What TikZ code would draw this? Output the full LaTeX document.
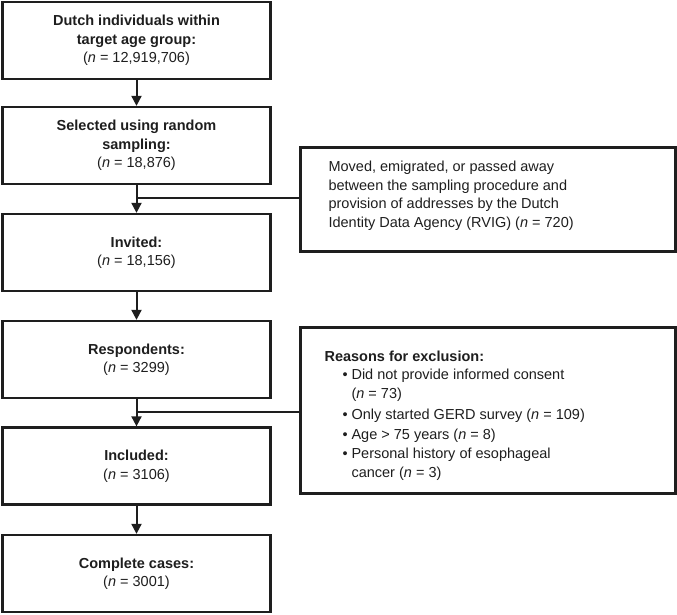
\documentclass[tikz,border=0pt]{standalone}
\usepackage{fontspec}
\setmainfont{Liberation Sans}
\usetikzlibrary{arrows.meta}
\definecolor{ink}{HTML}{1E1E1E}
\begin{document}
\begin{tikzpicture}[x=1pt,y=-1pt,
  font=\fontsize{14.5}{18.5}\selectfont,
  mainbox/.style={draw=ink, line width=2.3pt, minimum width=268pt, minimum height=77pt, align=center, inner sep=0pt, text=ink},
  sidebox/.style={draw=ink, line width=2.3pt, minimum width=375pt, inner sep=0pt},
  sidetext/.style={align=left, inner sep=0pt, text=ink, anchor=west},
  flow/.style={draw=ink, line width=2pt, -{Triangle[width=10pt,length=10pt]}},
  link/.style={draw=ink, line width=1.8pt}]
\useasboundingbox (0,0) rectangle (677,614);

\node[mainbox] (b1) at (136.5,40.5) {\textbf{Dutch individuals within}\\\textbf{target age group:}\\(\textit{n} = 12,919,706)};
\node[mainbox] (b2) at (136.5,145.5) {\textbf{Selected using random}\\\textbf{sampling:}\\(\textit{n} = 18,876)};
\node[mainbox] (b3) at (136.5,252.5) {\textbf{Invited:}\\(\textit{n} = 18,156)};
\node[mainbox] (b4) at (136.5,359.5) {\textbf{Respondents:}\\(\textit{n} = 3299)};
\node[mainbox] (b5) at (136.5,466) {\textbf{Included:}\\(\textit{n} = 3106)};
\node[mainbox] (b6) at (136.5,573.5) {\textbf{Complete cases:}\\(\textit{n} = 3001)};

\node[sidebox, minimum height=104pt] (r1) at (488,199.5) {};
\node[sidetext] (r1t) at ([xshift=29pt,yshift=4pt]r1.west)
  {Moved, emigrated, or passed away\\between the sampling procedure and\\provision of addresses by the Dutch\\Identity Data Agency (RVIG) (\textit{n} = 720)};

\node[sidebox, minimum height=166pt] (r2) at (488,410.5) {};
\node[sidetext] (r2t) at ([xshift=25pt,yshift=-5pt]r2.west)
  {\textbf{Reasons for exclusion:}\\
   \hspace*{18pt}\makebox[9pt][l]{•}Did not provide informed consent\\
   \hspace*{27pt}(\textit{n} = 73)\\[3pt]
   \hspace*{18pt}\makebox[9pt][l]{•}Only started GERD survey (\textit{n} = 109)\\[1pt]
   \hspace*{18pt}\makebox[9pt][l]{•}Age > 75 years (\textit{n} = 8)\\[1pt]
   \hspace*{18pt}\makebox[9pt][l]{•}Personal history of esophageal\\
   \hspace*{27pt}cancer (\textit{n} = 3)};

\draw[flow] (b1.south) -- (b2.north);
\draw[flow] (b2.south) -- (b3.north);
\draw[flow] (b3.south) -- (b4.north);
\draw[flow] (b4.south) -- (b5.north);
\draw[flow] (b5.south) -- (b6.north);

\coordinate (j1) at ([yshift=1.5pt]r1.west -| b2.south);
\coordinate (j2) at ([yshift=-1.5pt]r2.west -| b4.south);
\draw[link] ([yshift=1.5pt]r1.west) -- (j1);
\draw[link] ([yshift=-1.5pt]r2.west) -- (j2);
\end{tikzpicture}
\end{document}
